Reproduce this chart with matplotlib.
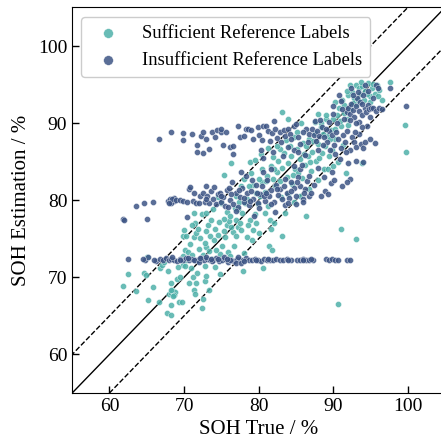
import matplotlib.pyplot as plt
import numpy as np

# Sufficient reference labels (teal): (SOH true, SOH estimation)
suff_pts = [
    (61.8, 68.9), (62.5, 70.4), (63.6, 68.2), (64.6, 70.5), (64.9, 70.3), (65.0, 72.6), (65.1, 67.0),
    (65.9, 68.7), (66.6, 66.8), (66.8, 71.2), (67.0, 71.6), (67.3, 72.0), (67.7, 65.4), (68.2, 65.1),
    (68.2, 66.4), (68.0, 67.8), (68.3, 68.0), (68.5, 68.2), (68.6, 67.9), (68.4, 68.4), (68.8, 68.1),
    (68.7, 67.7), (68.5, 67.6), (68.3, 68.3), (68.3, 69.3), (69.0, 69.8), (69.3, 66.8), (69.7, 66.8),
    (69.5, 70.1), (69.8, 71.6), (70.1, 71.5), (70.3, 72.3), (69.8, 72.8), (70.1, 73.5), (70.5, 73.3),
    (69.8, 75.3), (70.0, 76.1), (70.3, 75.4), (70.8, 74.3), (71.0, 72.9), (71.2, 70.0), (71.3, 68.3),
    (71.5, 67.8), (71.6, 69.2), (71.8, 70.5), (72.0, 73.7), (71.3, 75.2), (71.6, 75.8), (71.9, 76.3),
    (71.5, 77.0), (71.3, 78.3), (72.4, 66.0), (72.6, 67.2), (72.8, 69.5), (73.0, 70.2), (73.4, 68.4),
    (72.8, 71.5), (72.5, 72.9), (72.9, 73.9), (73.4, 73.4), (72.9, 76.0), (73.2, 76.8), (73.5, 75.3),
    (73.6, 77.5), (72.4, 78.2), (73.0, 78.4), (72.8, 74.5),
    (74.0, 74.8), (74.2, 76.3), (74.5, 75.5), (74.8, 70.4), (74.8, 73.0), (75.1, 74.0), (75.3, 76.0),
    (75.5, 75.2), (75.8, 76.8), (76.0, 77.3), (75.7, 78.5), (75.0, 79.7), (74.6, 80.4), (75.3, 83.3),
    (76.1, 78.0), (76.5, 75.9), (76.7, 74.1), (77.0, 77.4), (77.2, 76.5), (77.3, 78.8), (77.5, 77.0),
    (77.7, 76.1), (77.8, 78.3), (78.0, 73.1), (77.9, 70.8), (78.2, 79.6), (78.5, 80.2), (78.4, 75.2),
    (78.9, 77.5), (79.1, 74.9), (79.3, 76.2), (79.5, 78.2), (79.7, 81.0), (79.2, 82.0), (78.7, 81.8),
    (79.9, 79.5), (80.0, 75.8), (80.2, 80.6), (80.4, 82.3), (80.5, 84.1), (80.9, 81.1), (81.1, 83.1),
    (81.3, 79.3), (81.5, 77.5), (81.7, 76.3), (81.4, 74.0), (81.8, 73.5), (80.6, 71.2), (81.0, 82.5),
    (81.6, 84.5), (81.9, 85.6), (76.3, 84.8), (77.0, 80.6), (77.4, 79.8), (78.8, 85.0), (79.5, 85.2),
    (82.2, 81.8), (82.4, 83.6), (82.6, 85.1), (82.8, 82.5), (83.0, 80.4), (83.2, 84.2), (83.4, 86.1),
    (83.5, 78.3), (83.2, 75.4), (83.8, 83.0), (84.0, 84.8), (84.2, 87.0), (84.4, 85.8), (84.5, 82.1),
    (84.7, 88.2), (84.9, 84.0), (85.1, 86.6), (85.3, 83.5), (85.5, 85.3), (85.6, 80.5), (85.8, 82.9),
    (86.0, 87.4), (86.2, 84.6), (86.4, 78.0), (86.6, 85.8), (86.8, 88.0), (87.0, 83.8), (87.2, 86.3),
    (87.5, 88.7), (87.7, 85.1), (88.0, 87.3), (88.3, 89.5), (88.5, 86.1), (88.7, 84.0), (89.0, 90.5),
    (89.2, 88.3), (89.4, 85.7), (89.7, 89.1), (90.0, 90.6), (89.8, 86.5), (83.2, 91.4), (84.0, 90.6),
    (85.7, 90.0), (86.3, 87.0), (87.6, 90.2), (88.4, 90.0),
    (90.3, 88.0), (90.5, 91.0), (90.8, 92.0), (91.0, 89.6), (91.2, 93.0), (91.5, 92.4), (91.8, 90.5),
    (92.0, 93.6), (92.2, 91.8), (92.5, 94.0), (92.8, 93.2), (93.0, 95.0), (93.1, 92.5), (93.4, 94.5),
    (93.6, 93.8), (93.9, 94.8), (94.1, 93.0), (94.3, 94.2), (94.6, 95.2), (94.9, 93.5), (95.2, 94.6),
    (95.6, 93.8), (95.9, 94.9), (96.2, 94.3), (96.5, 93.0), (92.0, 89.8), (91.3, 87.2), (90.6, 85.0),
    (93.8, 84.8), (91.7, 83.5), (95.0, 92.8), (97.6, 95.3), (90.6, 66.6), (91.0, 76.3), (93.1, 75.0),
    (99.6, 89.8), (99.8, 86.3), (92.3, 95.0),
    (80.3, 86.0), (81.2, 86.8), (82.0, 84.0), (82.9, 86.7), (83.7, 87.8), (84.6, 83.3), (85.2, 88.9),
    (86.1, 86.0), (86.9, 84.9), (87.3, 87.7), (88.1, 85.5), (88.9, 87.0), (89.6, 88.0), (90.2, 89.3),
    (89.1, 91.0), (88.6, 88.6), (87.9, 91.2), (90.9, 90.3), (91.4, 91.3), (92.7, 92.6), (93.3, 93.0),
    (94.5, 93.8), (93.7, 95.3), (95.4, 95.1), (96.0, 93.5), (91.9, 94.2), (90.2, 92.8), (76.8, 79.0),
    (77.6, 81.9), (78.1, 82.8), (79.0, 83.5), (80.0, 82.8), (81.9, 82.8), (82.5, 87.0), (76.3, 76.5),
    (75.4, 77.6), (74.7, 77.2), (73.9, 78.8), (74.3, 73.6), (75.9, 73.3), (77.0, 75.3), (78.6, 76.8),
    (79.6, 77.0), (80.8, 78.3), (82.0, 77.0), (83.9, 80.8), (84.8, 79.8), (86.8, 81.5), (88.0, 82.6),
    (89.3, 84.0), (90.0, 84.5), (71.0, 76.8), (72.1, 75.1), (73.8, 72.4), (70.6, 69.2), (69.2, 71.3),
    (67.8, 70.8), (70.9, 71.2), (74.1, 71.4), (76.2, 72.8),
]

# Insufficient reference labels (dark blue): horizontal band near 72 %
band72_x = [62.5, 64.7, 65.2, 66.3, 66.8, 67.2, 67.6, 68.0, 68.3, 68.7, 69.1, 69.5, 69.9, 70.3, 70.7,
            71.1, 71.5, 71.9, 72.3, 72.7, 73.1, 73.5, 73.9, 74.3, 74.7, 75.1, 75.5, 75.9, 76.3, 76.7,
            77.1, 77.5, 77.9, 78.3, 78.7, 79.1, 79.5, 79.9, 80.3, 80.7, 81.1, 81.5, 81.9, 82.3, 82.8,
            83.3, 83.8, 84.4, 85.2, 85.6, 86.0, 86.4, 86.8, 87.3, 89.0, 89.4, 89.8, 90.2, 91.8, 92.2,
            70.5, 71.3, 72.0, 72.9, 73.7, 74.5, 75.3, 76.1, 76.9, 77.3, 77.7, 78.1,
            73.6, 72.1, 69.4, 68.4, 75.7, 79.7, 81.3, 84.0, 85.9, 87.0, 90.6, 64.5, 66.0]
band72_y = [72.4, 72.2, 72.6, 72.1, 72.4, 72.3, 72.5, 72.2, 72.4, 72.3, 72.1, 72.4, 72.3, 72.5, 72.2,
            72.4, 72.3, 72.2, 72.5, 72.3, 72.4, 72.2, 72.3, 72.5, 72.1, 72.3, 72.4, 72.0, 72.3, 72.1,
            72.4, 72.2, 72.3, 72.5, 72.3, 72.2, 72.4, 72.3, 72.1, 72.4, 72.2, 72.3, 72.2, 72.4, 72.3,
            72.3, 72.4, 72.3, 72.3, 72.2, 72.4, 72.3, 72.2, 72.3, 72.4, 72.3, 72.4, 72.2, 72.3, 72.3,
            72.5, 72.2, 72.0, 72.6, 72.1, 72.4, 72.6, 72.2, 71.9, 72.6, 71.8, 72.1,
            72.4, 72.5, 72.2, 72.6, 72.4, 72.2, 72.4, 72.3, 72.3, 72.4, 72.3, 72.4, 72.3]

insuff_pts = [
    (61.8, 77.6), (63.6, 79.2), (64.6, 79.7), (65.0, 77.6), (65.9, 79.8), (67.9, 79.9), (68.1, 80.1),
    (68.3, 79.8), (68.5, 80.0), (68.7, 79.9), (68.2, 79.6), (68.6, 80.3), (68.4, 80.2), (68.0, 79.7),
    (68.9, 80.0), (69.4, 80.0), (69.9, 79.9), (70.4, 79.8), (70.4, 77.8), (70.6, 81.5), (70.8, 81.7),
    (71.2, 79.9), (71.6, 79.6), (72.0, 79.7), (72.2, 80.5), (72.5, 81.0), (72.8, 79.8), (73.1, 80.6),
    (73.4, 79.7), (73.6, 81.2), (73.0, 81.8), (73.9, 80.2), (74.3, 79.5), (74.6, 80.8), (74.9, 79.8),
    (75.2, 80.4), (75.5, 79.2), (75.8, 81.3), (76.1, 80.0), (76.4, 82.4), (76.6, 79.5), (76.9, 80.9),
    (77.2, 79.1), (77.5, 80.4), (77.8, 81.6), (78.1, 79.8), (78.4, 80.9), (78.7, 79.4), (79.0, 81.2),
    (79.3, 80.2), (79.6, 82.0), (79.9, 79.6), (80.2, 80.8), (80.5, 81.8), (80.8, 79.9), (81.1, 82.6),
    (81.4, 80.5), (81.7, 81.3), (82.0, 79.8), (82.3, 82.0), (82.6, 80.7), (82.9, 81.5), (83.2, 80.1),
    (83.5, 82.8), (83.8, 81.0), (84.1, 80.3), (84.4, 82.3), (84.7, 81.6), (85.0, 80.5), (85.3, 83.0),
    (85.6, 81.9), (85.9, 80.2), (86.2, 81.4), (86.5, 82.5), (86.8, 80.6), (86.0, 79.8), (84.8, 84.5),
    (85.5, 84.0), (87.4, 82.0), (88.4, 80.5), (88.9, 81.2), (89.3, 80.8), (89.7, 82.2), (90.1, 82.6),
    (89.9, 83.6), (88.7, 83.0), (91.2, 81.9), (92.3, 82.7), (91.9, 82.3), (87.9, 84.2), (77.6, 83.6),
    (78.3, 83.2), (80.6, 83.7), (81.7, 84.0), (76.0, 81.6), (74.8, 81.0), (75.9, 79.1), (77.0, 78.6),
    (79.4, 78.0), (80.1, 79.0), (82.2, 78.5), (83.6, 79.4),
    (75.0, 80.5), (76.3, 80.8), (77.4, 81.3), (78.0, 80.3), (78.9, 79.9), (79.8, 80.9), (80.7, 80.5),
    (81.6, 79.5), (82.5, 81.4), (83.4, 81.8), (84.3, 81.2), (85.2, 82.3), (86.1, 80.9), (86.7, 83.2),
    (87.0, 81.0), (85.0, 79.5), (84.0, 79.7), (81.0, 81.0), (79.1, 82.6), (74.0, 81.7), (71.4, 80.9),
    (72.9, 80.1), (61.9, 77.5),
    (66.6, 88.0), (68.3, 88.9), (69.9, 88.7), (69.9, 87.8), (71.1, 88.6), (71.7, 87.1), (71.7, 86.3),
    (72.3, 88.3), (72.6, 88.8), (72.5, 86.1), (73.0, 88.0), (73.3, 86.7), (73.7, 88.9), (74.2, 88.2),
    (74.4, 89.1), (74.9, 88.8), (75.0, 89.2), (75.6, 88.9), (75.2, 87.2), (76.2, 86.9), (76.6, 87.0),
    (76.6, 86.0), (77.3, 89.6), (77.5, 88.2), (78.0, 88.3), (78.3, 89.3), (78.6, 89.2), (79.0, 89.1),
    (79.3, 87.9), (79.9, 89.5), (80.1, 88.4), (80.3, 86.5), (80.6, 89.6), (81.0, 89.6), (81.3, 89.0),
    (81.5, 87.7), (81.8, 88.7), (82.0, 90.3), (82.2, 89.2), (82.5, 88.1), (82.8, 88.9), (83.0, 87.5),
    (83.4, 89.1), (83.6, 88.3), (84.0, 89.3), (84.2, 88.6), (84.4, 87.9), (84.7, 89.6), (85.0, 89.9),
    (85.3, 88.2), (85.6, 87.3), (86.4, 89.3), (86.8, 88.6), (87.1, 89.2), (87.4, 88.4), (87.8, 89.0),
    (88.1, 88.3), (88.5, 89.5), (81.9, 86.3), (80.6, 85.5), (83.3, 85.8), (84.7, 86.5), (86.2, 85.9),
    (85.8, 84.6), (80.4, 87.8), (83.9, 86.9), (85.3, 86.3), (86.0, 88.8), (86.6, 87.6), (87.7, 87.7),
    (88.8, 88.2), (89.2, 87.6), (89.5, 89.0), (89.8, 88.4), (90.1, 87.2), (90.4, 88.8), (90.7, 87.9),
    (91.0, 86.8), (91.3, 88.4), (91.6, 87.5), (91.9, 89.0), (92.2, 86.5), (92.5, 88.2), (92.8, 87.6),
    (93.1, 86.9), (93.4, 88.6), (93.7, 87.3), (94.0, 86.8), (94.3, 87.5), (94.0, 85.0), (93.0, 85.1),
    (92.0, 84.8), (95.6, 87.4), (91.5, 90.5), (91.8, 91.5), (92.0, 92.0), (92.2, 91.2), (92.4, 92.5),
    (92.6, 91.7), (92.8, 90.8), (93.0, 92.2), (93.2, 93.3), (93.4, 91.6), (93.6, 92.8), (93.8, 91.0),
    (94.0, 93.6), (94.2, 92.0), (94.4, 91.4), (94.6, 92.3), (94.8, 91.8), (95.1, 92.0), (95.4, 91.9),
    (95.8, 91.6), (96.2, 92.0), (96.5, 91.8), (92.4, 94.6), (93.3, 94.0), (94.2, 95.0), (95.8, 95.0),
    (97.6, 94.6), (99.7, 92.2), (90.0, 92.2), (90.8, 93.6), (93.5, 90.2), (94.5, 89.6), (95.0, 90.8),
    (89.0, 89.3), (87.5, 90.3), (90.5, 90.0), (88.0, 86.5),
    (88.6, 87.2), (89.6, 86.5), (90.3, 86.0), (90.9, 85.4), (91.7, 86.2), (92.9, 88.9), (94.9, 88.0),
    (93.9, 89.5), (92.3, 90.4), (91.2, 91.8), (93.1, 90.0), (93.9, 92.5), (95.3, 93.2), (94.7, 94.2),
    (96.0, 94.5), (92.7, 93.6), (91.0, 92.9), (90.0, 91.2), (89.4, 90.2), (88.2, 90.4),
]

plt.rcParams['font.family'] = ['Liberation Serif', 'DejaVu Serif']

suff = np.array(suff_pts)
insuff = np.array(insuff_pts)
insuff_x = np.concatenate([band72_x, insuff[:, 0]])
insuff_y = np.concatenate([band72_y, insuff[:, 1]])

fig = plt.figure(figsize=(4.41, 4.45), dpi=100)
ax = fig.add_axes([0.1637, 0.1169, 0.8455, 0.8663])

ax.scatter(suff[:, 0], suff[:, 1], s=19, color='#4fb1aa', alpha=0.85,
           edgecolors='white', linewidths=0.3, label='Sufficient Reference Labels', zorder=3)
ax.scatter(insuff_x, insuff_y, s=19, color='#3d5585', alpha=0.85,
           edgecolors='white', linewidths=0.3, label='Insufficient Reference Labels', zorder=3)

ref = np.array([50, 110])
ax.plot(ref, ref, color='black', lw=1, zorder=2)
ax.plot(ref, ref + 5, color='black', lw=1, ls='--', zorder=2)
ax.plot(ref, ref - 5, color='black', lw=1, ls='--', zorder=2)

ax.set_xlim(55, 105)
ax.set_ylim(55, 105)
ax.set_xticks([60, 70, 80, 90, 100])
ax.set_yticks([60, 70, 80, 90, 100])
ax.tick_params(direction='in', labelsize=14, length=5, width=1)
ax.set_xlabel('SOH True / %', fontsize=15, labelpad=4)
ax.set_ylabel('SOH Estimation / %', fontsize=15, labelpad=5)

ax.legend(loc='upper left', fontsize=13.4, markerscale=1.6, handletextpad=0.8,
          borderpad=0.45, framealpha=1)

fig.savefig('out.png', dpi=100)
